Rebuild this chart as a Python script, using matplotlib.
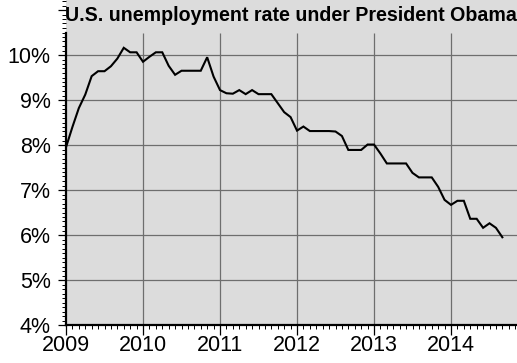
import matplotlib
matplotlib.use("Agg")
import matplotlib.pyplot as plt
from matplotlib.ticker import MultipleLocator, FixedLocator
import numpy as np

plt.rcParams['font.family'] = ['Liberation Sans', 'DejaVu Sans']

title = "U.S. unemployment rate under President Obama"
start_year = 2009
# monthly unemployment rate (%), Jan 2009 .. Sep 2014
rate = [7.95, 8.40, 8.82, 9.12, 9.53, 9.64, 9.64, 9.75, 9.92, 10.16, 10.06, 10.06,
        9.85, 9.96, 10.06, 10.06, 9.76, 9.56, 9.65, 9.65, 9.65, 9.65, 9.95, 9.52,
        9.22, 9.15, 9.14, 9.22, 9.13, 9.22, 9.13, 9.13, 9.13, 8.93, 8.73, 8.62,
        8.32, 8.41, 8.31, 8.31, 8.31, 8.31, 8.30, 8.20, 7.89, 7.89, 7.89, 8.01,
        8.01, 7.81, 7.59, 7.59, 7.59, 7.59, 7.38, 7.28, 7.28, 7.28, 7.07, 6.78,
        6.67, 6.76, 6.76, 6.36, 6.36, 6.16, 6.26, 6.16, 5.95]
year_ticks = [2009, 2010, 2011, 2012, 2013, 2014]
pct_ticks = [4, 5, 6, 7, 8, 9, 10, 11]
pct_labels = ["4%", "5%", "6%", "7%", "8%", "9%", "10%", ""]

t = start_year + np.arange(len(rate)) / 12.0

W, H = 517, 363
fig = plt.figure(figsize=(W / 100, H / 100), dpi=100)
fig.patch.set_facecolor("white")
ax = fig.add_axes([66 / W, 38 / H, 1 - 66 / W, 1 - 38 / H])
ax.set_facecolor("#dcdcdc")

ymax = 4 + 325 / 45
xmax = 2009 + 451 / 77
ax.set_xlim(2009, xmax)
ax.set_ylim(4, ymax)

grid_top = 10.5
for yv in pct_ticks:
    if 4 < yv <= grid_top:
        ax.axhline(yv, color="#6e6e6e", lw=0.9, zorder=1)
for xv in year_ticks[1:]:
    ax.vlines(xv, 4, grid_top, color="#6e6e6e", lw=0.9, zorder=1)

ax.plot(t, rate, color="black", lw=1.5, zorder=3, solid_joinstyle="miter")

for s in ["top", "right"]:
    ax.spines[s].set_visible(False)
ax.spines["left"].set_linewidth(1.6)
ax.spines["bottom"].set_linewidth(1.6)
ax.spines["left"].set_bounds(4, grid_top)

ax.yaxis.set_major_locator(FixedLocator(pct_ticks))
ax.set_yticklabels(pct_labels)
ax.yaxis.set_minor_locator(MultipleLocator(0.1))
ax.xaxis.set_major_locator(FixedLocator(year_ticks))
ax.set_xticklabels([str(y) for y in year_ticks])
ax.xaxis.set_minor_locator(MultipleLocator(1 / 12))

ax.tick_params(axis="y", which="major", direction="out", length=6, width=0.9, labelsize=15.5, pad=5)
ax.tick_params(axis="y", which="minor", direction="out", length=3, width=0.7)
ax.tick_params(axis="x", which="major", direction="out", length=7, width=0.9, labelsize=15.5, pad=0)
ax.tick_params(axis="x", which="minor", direction="out", length=3, width=0.7)

ax.text((2009 + xmax) / 2 - 0.01, ymax - 0.14, title, ha="center", va="top",
        fontsize=14.1, fontweight="bold", color="black", zorder=5)

fig.savefig("out.png", dpi=100)
